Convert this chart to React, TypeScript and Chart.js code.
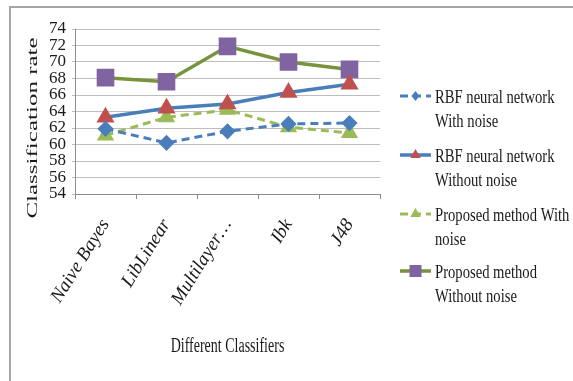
import React, { useEffect, useRef } from "react";
import { Chart, registerables } from "chart.js";

Chart.register(...registerables);

// Classifiers along the x axis
const categories = ["Naive Bayes", "LibLinear", "Multilayer…", "Ibk", "J48"];

// Classification rate (%) for each method
const rbfWithNoise = [61.9, 60.2, 61.6, 62.5, 62.6];
const rbfWithoutNoise = [63.3, 64.4, 64.9, 66.3, 67.3];
const proposedWithNoise = [61.1, 63.3, 64.2, 62.1, 61.4];
const proposedWithoutNoise = [68.1, 67.6, 71.9, 70.0, 69.1];

// Legend entries (wrapped onto two lines)
const seriesLabels = [
  ["RBF neural network", "With noise"],
  ["RBF neural network", "Without noise"],
  ["Proposed method With", "noise"],
  ["Proposed method", "Without noise"],
];

const yTicks = [54, 56, 58, 60, 62, 64, 66, 68, 70, 72, 74];

const xTitle = "Different Classifiers";
const yTitle = "Classification rate";

const W = 573;
const H = 381;
const SERIF = "'Liberation Serif', 'Times New Roman', serif";

// Draws a narrowed string (horizontal squeeze) at a baseline position
function squeezedText(
  ctx: CanvasRenderingContext2D,
  text: string,
  x: number,
  y: number,
  sx: number,
  align: CanvasTextAlign
) {
  ctx.save();
  ctx.translate(x, y);
  ctx.scale(sx, 1);
  ctx.textAlign = align;
  ctx.textBaseline = "alphabetic";
  ctx.fillText(text, 0, 0);
  ctx.restore();
}

// Small legend marker in the same style as the series points
function legendMarker(ctx: CanvasRenderingContext2D, style: string, x: number, y: number, r: number) {
  ctx.beginPath();
  if (style === "rectRot") {
    ctx.moveTo(x, y - r);
    ctx.lineTo(x + r * 0.8, y);
    ctx.lineTo(x, y + r);
    ctx.lineTo(x - r * 0.8, y);
  } else if (style === "triangle") {
    ctx.moveTo(x, y - r);
    ctx.lineTo(x + r * 0.866, y + r * 0.5);
    ctx.lineTo(x - r * 0.866, y + r * 0.5);
  } else {
    ctx.rect(x - r, y - r, 2 * r, 2 * r);
  }
  ctx.closePath();
  ctx.fill();
}

const decorPlugin = {
  id: "decor",
  beforeDraw(chart: any) {
    const ctx: CanvasRenderingContext2D = chart.ctx;
    ctx.save();
    ctx.fillStyle = "#ffffff";
    ctx.fillRect(0, 0, W, H);
    // outer frame (top and left edges)
    ctx.strokeStyle = "#a6a6a6";
    ctx.lineWidth = 2;
    ctx.beginPath();
    ctx.moveTo(W, 7);
    ctx.lineTo(10, 7);
    ctx.lineTo(10, H);
    ctx.stroke();
    ctx.restore();
  },
  afterDraw(chart: any) {
    const ctx: CanvasRenderingContext2D = chart.ctx;
    const area = chart.chartArea;
    ctx.save();
    ctx.fillStyle = "#1a1a1a";

    // x axis title
    ctx.font = `20px ${SERIF}`;
    squeezedText(ctx, xTitle, (area.left + area.right) / 2, 352, 0.7, "center");

    // y axis title, rotated
    ctx.save();
    ctx.translate(37, 128);
    ctx.rotate(-Math.PI / 2);
    ctx.scale(1, 0.6);
    ctx.font = `25px ${SERIF}`;
    ctx.textAlign = "center";
    ctx.textBaseline = "alphabetic";
    ctx.fillText(yTitle, 0, 0);
    ctx.restore();

    // legend
    const baseY = [103, 162, 221, 278];
    chart.data.datasets.forEach((ds: any, i: number) => {
      const by = baseY[i];
      const ly = by - 7;
      ctx.save();
      ctx.strokeStyle = ds.borderColor;
      ctx.lineWidth = ds.borderWidth;
      ctx.setLineDash(ds.borderDash || []);
      ctx.beginPath();
      ctx.moveTo(400, ly);
      ctx.lineTo(431, ly);
      ctx.stroke();
      ctx.setLineDash([]);
      ctx.fillStyle = ds.pointBackgroundColor;
      legendMarker(ctx, ds.pointStyle, 415.5, ly, ds.legendRadius);
      ctx.restore();

      ctx.fillStyle = "#1a1a1a";
      ctx.font = `19px ${SERIF}`;
      seriesLabels[i].forEach((line, j) => {
        squeezedText(ctx, line, 435, by + j * 23.5, 0.77, "left");
      });
    });
    ctx.restore();
  },
};

export default function App() {
  const ref = useRef<HTMLCanvasElement>(null);

  useEffect(() => {
    if (!ref.current) return;
    const chart = new Chart(ref.current, {
      type: "line",
      data: {
        labels: categories,
        datasets: [
          {
            label: seriesLabels[0].join(" "),
            data: rbfWithNoise,
            borderColor: "#4a7ebb",
            borderWidth: 3,
            borderDash: [8, 5],
            pointStyle: "rectRot",
            pointRadius: 6,
            pointBackgroundColor: "#4a7ebb",
            pointBorderColor: "#4a7ebb",
            legendRadius: 5,
          } as any,
          {
            label: seriesLabels[1].join(" "),
            data: rbfWithoutNoise,
            borderColor: "#4a7ebb",
            borderWidth: 3.5,
            pointStyle: "triangle",
            pointRadius: 7,
            pointBackgroundColor: "#c0504d",
            pointBorderColor: "#c0504d",
            legendRadius: 6,
          } as any,
          {
            label: seriesLabels[2].join(" "),
            data: proposedWithNoise,
            borderColor: "#9bbb59",
            borderWidth: 3,
            borderDash: [8, 5],
            pointStyle: "triangle",
            pointRadius: 7,
            pointBackgroundColor: "#9bbb59",
            pointBorderColor: "#9bbb59",
            legendRadius: 6,
          } as any,
          {
            label: seriesLabels[3].join(" "),
            data: proposedWithoutNoise,
            borderColor: "#77933c",
            borderWidth: 3.5,
            pointStyle: "rect",
            pointRadius: 10,
            pointBackgroundColor: "#8064a2",
            pointBorderColor: "#8064a2",
            legendRadius: 6,
          } as any,
        ],
      },
      options: {
        animation: false,
        responsive: false,
        layout: { padding: { left: 0, right: 193, top: 29, bottom: 0 } },
        plugins: {
          legend: { display: false },
          tooltip: { enabled: false },
        },
        scales: {
          x: {
            offset: true,
            grid: {
              offset: true,
              drawOnChartArea: false,
              drawTicks: true,
              tickLength: 5,
              color: "#8c8c8c",
            },
            border: { display: true, color: "#8c8c8c" },
            ticks: {
              color: "#1a1a1a",
              font: { family: SERIF, size: 19, style: "italic" },
              minRotation: 58,
              maxRotation: 58,
              padding: 16,
            },
            afterFit(scale: any) {
              scale.height = H - 194;
            },
          },
          y: {
            min: 54,
            max: 74,
            afterBuildTicks(scale: any) {
              scale.ticks = yTicks.map((v) => ({ value: v }));
            },
            grid: {
              color: "#bdbdbd",
              lineWidth: 1,
              tickLength: 3,
            },
            border: { display: true, color: "#8c8c8c" },
            ticks: {
              autoSkip: false,
              color: "#1a1a1a",
              font: { family: SERIF, size: 17, lineHeight: 1 },
              padding: 6,
            },
            afterFit(scale: any) {
              scale.width = 75;
            },
          },
        },
      },
      plugins: [decorPlugin],
    });
    return () => chart.destroy();
  }, []);

  return (
    <div style={{ position: "absolute", left: 0, top: 0, width: W, height: H, background: "#fff" }}>
      <canvas ref={ref} width={W} height={H} />
    </div>
  );
}
